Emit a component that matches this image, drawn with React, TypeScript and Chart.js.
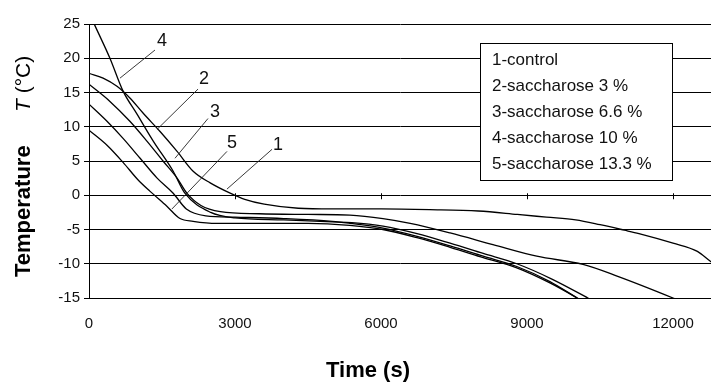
import React, { useEffect, useRef } from "react";
import { Chart, registerables } from "chart.js";

Chart.register(...registerables);

// ---- data ----
const xTicks = [0, 3000, 6000, 9000, 12000];
const yTicks = [-15, -10, -5, 0, 5, 10, 15, 20, 25];

const t1 = [0, 290, 575, 840, 1110, 1460, 1810, 2140, 2490, 2900, 3200, 3600, 4300, 5000, 6000, 7000, 8000, 8800, 9400, 10000, 10500, 11000, 11300, 12000, 12500, 12760, 12900];
const T1 = [17.8, 17.1, 15.9, 14.2, 12.0, 9.3, 6.4, 3.5, 1.8, 0.3, -0.6, -1.3, -1.9, -2.0, -2.0, -2.1, -2.3, -2.8, -3.2, -3.6, -4.3, -5.1, -5.6, -7.0, -8.2, -9.6, -10.3];

const t2 = [0, 430, 840, 1190, 1520, 1810, 2010, 2300, 2700, 3500, 4500, 5360, 6040, 6600, 7420, 8300, 9200, 10150, 10850, 12000, 12100];
const T2 = [16.2, 13.7, 10.8, 7.9, 5.0, 2.5, 0.3, -1.5, -2.4, -2.7, -2.8, -2.9, -3.4, -4.1, -5.5, -7.2, -8.9, -10.1, -11.8, -15.0, -15.3];

const t3 = [0, 370, 700, 1050, 1400, 1730, 2000, 2400, 3000, 4000, 5000, 5360, 6040, 6740, 7420, 8100, 8790, 9470, 10030, 10100];
const T3 = [13.3, 10.8, 8.3, 5.4, 2.5, 0.3, -2.0, -3.0, -3.2, -3.4, -3.8, -4.1, -4.8, -6.0, -7.4, -8.9, -10.4, -12.6, -15.0, -15.3];

const t4 = [0, 120, 430, 700, 990, 1320, 1730, 1970, 2500, 3000, 4000, 5000, 5400, 6040, 6740, 7420, 8100, 8790, 9500, 10250, 10300];
const T4 = [26.7, 24.8, 20.0, 15.2, 11.8, 7.9, 3.5, 0.3, -2.5, -3.3, -3.6, -3.9, -4.0, -4.5, -5.6, -7.0, -8.5, -10.0, -12.2, -15.0, -15.2];

const t5 = [0, 370, 700, 1000, 1250, 1600, 1870, 2140, 2630, 3500, 4500, 5360, 6040, 6740, 7420, 8100, 8790, 9470, 10030, 10100];
const T5 = [9.5, 7.3, 4.8, 2.3, 0.6, -1.6, -3.4, -3.8, -4.1, -4.1, -4.1, -4.4, -5.0, -6.2, -7.6, -9.1, -10.6, -12.8, -15.0, -15.3];

const legendLabels = ["1-control", "2-saccharose 3 %", "3-saccharose 6.6 %", "4-saccharose 10 %", "5-saccharose 13.3 %"];
const curveNames = ["1", "2", "3", "4", "5"];
// label anchors and leader lines, in data units (time s, temperature °C)
const labelAt = [[3882, 7.3], [2363, 16.9], [2590, 12.2], [1500, 22.5], [2938, 7.6]];
const leaderFrom = [[3760, 6.7], [2240, 15.5], [2445, 11.2], [1356, 21.2], [2835, 6.4]];
const leaderTo = [[2835, 0.9], [1397, 9.6], [1767, 5.4], [637, 17.1], [1705, -2.0]];

const xTitle = "Time (s)";
const yTitleA = "Temperature";
const yTitleB = "T";
const yTitleC = " (°C)";

const FONT = "'Liberation Sans', Arial, sans-serif";

const series = [
  [t1, T1],
  [t2, T2],
  [t3, T3],
  [t4, T4],
  [t5, T5],
];

export default function App() {
  const ref = useRef<HTMLCanvasElement | null>(null);

  useEffect(() => {
    document.body.style.margin = "0";
    const canvas = ref.current;
    if (!canvas) return;

    const overlay = {
      id: "overlay",
      afterDraw(chart: any) {
        const ctx = chart.ctx as CanvasRenderingContext2D;
        const xs = chart.scales.x;
        const ys = chart.scales.y;
        ctx.save();
        // ticks on the zero line
        const y0 = ys.getPixelForValue(0);
        ctx.strokeStyle = "#000";
        ctx.lineWidth = 1;
        xTicks.forEach((v) => {
          if (v === 0) return;
          const x = Math.round(xs.getPixelForValue(v)) + 0.5;
          ctx.beginPath();
          ctx.moveTo(x, y0 - 2);
          ctx.lineTo(x, y0 + 4);
          ctx.stroke();
        });
        // leader lines
        ctx.strokeStyle = "#222";
        ctx.lineWidth = 0.9;
        for (let i = 0; i < curveNames.length; i++) {
          ctx.beginPath();
          ctx.moveTo(xs.getPixelForValue(leaderFrom[i][0]), ys.getPixelForValue(leaderFrom[i][1]));
          ctx.lineTo(xs.getPixelForValue(leaderTo[i][0]), ys.getPixelForValue(leaderTo[i][1]));
          ctx.stroke();
        }
        // curve labels
        ctx.fillStyle = "#111";
        ctx.font = `18px ${FONT}`;
        ctx.textAlign = "center";
        ctx.textBaseline = "middle";
        for (let i = 0; i < curveNames.length; i++) {
          ctx.fillText(curveNames[i], xs.getPixelForValue(labelAt[i][0]), ys.getPixelForValue(labelAt[i][1]));
        }
        // legend box
        ctx.fillStyle = "#fff";
        ctx.fillRect(480, 43, 192, 137);
        ctx.strokeStyle = "#000";
        ctx.lineWidth = 1;
        ctx.strokeRect(480.5, 43.5, 192, 137);
        ctx.fillStyle = "#111";
        ctx.font = `17px ${FONT}`;
        ctx.textAlign = "left";
        ctx.textBaseline = "middle";
        legendLabels.forEach((s, i) => {
          ctx.fillText(s, 492, 60 + i * 26);
        });
        // x title
        ctx.fillStyle = "#000";
        ctx.font = `bold 22px ${FONT}`;
        ctx.textAlign = "center";
        ctx.textBaseline = "middle";
        ctx.fillText(xTitle, 368, 371);
        // y title (rotated)
        ctx.translate(24, 0);
        ctx.rotate(-Math.PI / 2);
        ctx.textAlign = "left";
        ctx.font = `bold 22px ${FONT}`;
        ctx.fillText(yTitleA, -277, 0);
        ctx.font = `italic 21px ${FONT}`;
        ctx.fillText(yTitleB, -112, 0);
        const wT = ctx.measureText(yTitleB).width;
        ctx.font = `21px ${FONT}`;
        ctx.fillText(yTitleC, -112 + wT, 0);
        ctx.restore();
      },
    };

    const chart = new Chart(canvas, {
      type: "line",
      data: {
        datasets: series.map(([ts, vs]) => ({
          data: ts.map((t, i) => ({ x: t, y: vs[i] })),
          borderColor: "#000",
          borderWidth: 1.3,
          pointRadius: 0,
          fill: false,
          cubicInterpolationMode: "monotone" as const,
        })),
      },
      options: {
        animation: false,
        responsive: false,
        maintainAspectRatio: false,
        layout: { padding: { top: 24, left: 0, right: 0, bottom: 0 } },
        plugins: { legend: { display: false }, tooltip: { enabled: false } },
        scales: {
          x: {
            type: "linear",
            min: 0,
            max: 12780,
            afterBuildTicks: (s: any) => {
              s.ticks = xTicks.map((v) => ({ value: v }));
            },
            afterFit: (s: any) => {
              s.height = 89;
            },
            grid: { display: false, drawTicks: false },
            border: { display: false },
            ticks: {
              color: "#111",
              font: { family: FONT, size: 15 },
              padding: 17,
              maxRotation: 0,
              autoSkip: false,
              callback: (v: any) => String(v),
            },
          },
          y: {
            type: "linear",
            min: -15,
            max: 25,
            afterBuildTicks: (s: any) => {
              s.ticks = yTicks.map((v) => ({ value: v }));
            },
            afterFit: (s: any) => {
              s.width = 89;
            },
            grid: { color: "#000", lineWidth: 1, tickLength: 5 },
            border: { display: true, color: "#000", width: 1 },
            ticks: {
              color: "#111",
              font: { family: FONT, size: 15 },
              padding: 4,
              autoSkip: false,
              callback: (v: any) => String(v),
            },
          },
        },
      },
      plugins: [overlay],
    } as any);

    return () => chart.destroy();
  }, []);

  return (
    <div style={{ width: 711, height: 387, background: "#fff" }}>
      <canvas ref={ref} width={711} height={387} style={{ display: "block" }} />
    </div>
  );
}
